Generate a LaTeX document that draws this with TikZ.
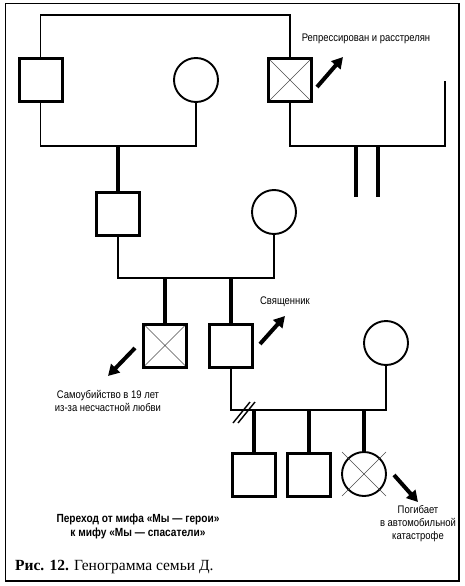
\documentclass[tikz,border=0pt]{standalone}
\usepackage{fontspec}
\setmainfont{Liberation Serif}
\newfontfamily\narrowsf{Liberation Sans}[FakeStretch=0.86]
\usetikzlibrary{arrows.meta}
\begin{document}
\begin{tikzpicture}[x=1pt,y=-1pt,
  male/.style={draw, rectangle, line width=3pt, minimum size=43pt, inner sep=0pt},
  female/.style={draw, circle, line width=1.9pt, minimum size=44pt, inner sep=0pt},
  crossed/.style={path picture={\draw[xline] (path picture bounding box.north west) -- (path picture bounding box.south east) (path picture bounding box.south west) -- (path picture bounding box.north east);}},
  xline/.style={line width=0.6pt, black!70},
  thinline/.style={line width=1.3pt},
  thickline/.style={line width=3.5pt},
  slash/.style={line width=1.4pt},
  bigarrow/.style={line width=4pt, -{Triangle[length=11pt,width=12pt]}},
  lbl/.style={font=\narrowsf\fontsize{11}{13}\selectfont, align=center, inner sep=0pt},
  boldlbl/.style={font=\narrowsf\bfseries\fontsize{11.8}{14}\selectfont, align=center, inner sep=0pt},
  caption/.style={font=\fontsize{15.5}{17}\selectfont, anchor=west, inner sep=0pt},
]
\useasboundingbox (0,0) rectangle (464,586);
\draw[line width=1.2pt] (5.5,3.5) rectangle (459,581);

% levels
\coordinate (y1) at (0,15);
\coordinate (y2) at (0,146);
\coordinate (y3) at (0,278);
\coordinate (y4) at (0,410);
\coordinate (r1) at (445,81);
\coordinate (k1) at (356,197);
\coordinate (k2) at (378,197);

% generation 1
\node[male] (gf) at (40.5,80) {};
\node[female] (gm) at (196,80) {};
\node[male, crossed] (rep) at (290,80) {};
% generation 2
\node[male] (f) at (118,214) {};
\node[female] (m) at (274,212) {};
% generation 3
\node[male, crossed] (s1) at (165,345.5) {};
\node[male] (s2) at (231,345.5) {};
\node[female] (w) at (386,343) {};
% generation 4
\node[male] (c1) at (254,474.5) {};
\node[male] (c2) at (309,474.5) {};
\node[female] (c3) at (364,474) {};
\draw[xline] (c3.center) ++(-22,-22) -- ++(44,44);
\draw[xline] (c3.center) ++(22,-22) -- ++(-44,44);

% connectors
\draw[thinline] (gf.north) -- (gf.north |- y1) -| (rep.north);
\draw[thinline] (gf.south) -- (gf.south |- y2) -| (gm.south);
\draw[thickline] (f.north) -- (f.north |- y2);
\draw[thinline] (rep.south) -- (rep.south |- y2) -| (r1);
\draw[thickline] (k1 |- y2) -- (k1);
\draw[thickline] (k2 |- y2) -- (k2);

\draw[thinline] (f.south) -- (f.south |- y3) -| (m.south);
\draw[thickline] (s1.north) -- (s1.north |- y3);
\draw[thickline] (s2.north) -- (s2.north |- y3);

\draw[thinline] (s2.south) -- (s2.south |- y4) -| (w.south);
\draw[thickline] (c1.north) -- (c1.north |- y4);
\draw[thickline] (c2.north) -- (c2.north |- y4);
\draw[thickline] (c3.north) -- (c3.north |- y4);
\draw[slash] (233,423) -- (250,402);
\draw[slash] (238,423) -- (255,402);

% arrows
\draw[bigarrow] (317,87) -- (343,57);
\draw[bigarrow] (135,348) -- (108,376);
\draw[bigarrow] (260,344) -- (285,316);
\draw[bigarrow] (394,475) -- (418,502);

% labels
\node[lbl] (t1) at (366,39) {Репрессирован и расстрелян};
\node[lbl] (t2) at (285,302) {Священник};
\node[lbl] (t3) at (108,401) {Самоубийство в 19 лет\\из-за несчастной любви};
\node[lbl] (t4) at (418,524) {Погибает\\в автомобильной\\катастрофе};
\node[boldlbl] (t5) at (138,526) {Переход от мифа «Мы — герои»\\к мифу «Мы — спасатели»};
\node[caption] (cap) at (15,567) {\textbf{Рис. 12.} Генограмма семьи Д.};
\end{tikzpicture}
\end{document}
